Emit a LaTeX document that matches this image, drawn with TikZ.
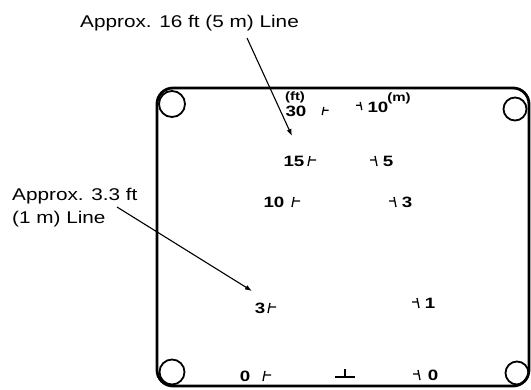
\documentclass[tikz,border=0pt]{standalone}
\usepackage{fontspec}
\newfontfamily\lab[FakeStretch=1.22]{Liberation Sans}
\newfontfamily\labn[FakeStretch=1.25]{Liberation Sans}
\usetikzlibrary{arrows.meta}
\tikzset{
  frame/.style={line width=2.8pt, rounded corners=16pt},
  roller/.style={circle, draw, line width=1.8pt, inner sep=0pt, minimum size=#1},
  callout/.style={font=\lab\fontsize{17}{20}\selectfont, inner sep=0pt},
  num/.style={font=\labn\bfseries\fontsize{15}{17}\selectfont, inner sep=0pt},
  unit/.style={font=\labn\bfseries\fontsize{12}{13}\selectfont, inner sep=0pt},
  pointer/.style={line width=1.1pt, -{Latex[length=7pt,width=5pt]}},
  tickmark/.style={line width=1.3pt},
  lt/.pic={\draw[tickmark] (-1,5)--(1,-5) (0,-1)--(7,-1);},
  rt/.pic={\draw[tickmark] (-1,-5)--(1,5) (0,-1)--(-6,-1);},
  bt/.pic={\draw[tickmark] (-10,0)--(10,0) (0,0)--(0,-8);},
}
\begin{document}
\begin{tikzpicture}[x=1pt,y=-1pt]
\useasboundingbox (0,0) rectangle (531,389);
% frame
\draw[frame] (157,88) rectangle (529,386);
% rollers
\node[roller=26pt] (tl) at (172,104) {};
\node[roller=23pt] (tr) at (515,109) {};
\node[roller=25pt] (bl) at (172,372) {};
\node[roller=23pt] (br) at (517,373) {};
% callouts
\node[callout, anchor=base west] (c16) at (80,27) {Approx. 16 ft (5 m) Line};
\node[callout, anchor=base west] (c33a) at (12,200) {Approx. 3.3 ft};
\node[callout, anchor=base west] (c33b) at (12,223) {(1 m) Line};
\coordinate (a1s) at (247,38);
\coordinate (a1e) at (292,136);
\coordinate (a2s) at (117,207);
\coordinate (a2e) at (252,291);
\draw[pointer] (a1s) -- (a1e);
\draw[pointer] (a2s) -- (a2e);
% feet scale
\node[unit] (ft) at (295,97) {(ft)};
\node[num] (f30) at (296,111) {30};
\pic[scale=0.8] at (323,111) {lt};
\node[num] (f15) at (294,161) {15};
\pic at (309,161) {lt};
\node[num] (f10) at (274,202) {10};
\pic at (293,202) {lt};
\node[num] (f3) at (260,308) {3};
\pic at (269,308) {lt};
\node[num] (f0) at (245,376) {0};
\pic at (264,376) {lt};
% middle
\pic at (345,377) {bt};
% metre scale
\pic[scale=0.8] at (361,106) {rt};
\node[num] (m10) at (378,107) {10};
\node[unit] (m) at (399,98) {(m)};
\pic at (376,161) {rt};
\node[num] (m5) at (388,161) {5};
\pic at (395,202) {rt};
\node[num] (m3) at (407,202) {3};
\pic at (418,303) {rt};
\node[num] (m1) at (430,303) {1};
\pic at (419,375) {rt};
\node[num] (m0) at (433,375) {0};
\end{tikzpicture}
\end{document}
